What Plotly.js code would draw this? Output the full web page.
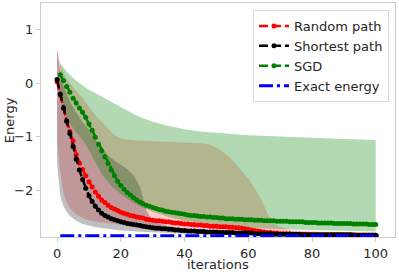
<!DOCTYPE html>
<html><head><meta charset="utf-8">
<script src="https://cdn.plot.ly/plotly-3.0.1.min.js"></script>
<style>html,body{margin:0;padding:0;background:#fff}#chart{width:399px;height:272px}</style>
</head><body><div id="chart"></div>
<script>
// iteration index 0..100
const iterations = Array.from({length: 101}, (_, i) => i);
const sgdIterations = Array.from({length: 100}, (_, i) => i + 1);

const randomPath = [
 0.03,-0.22,-0.47,-0.70,-0.90,-1.08,-1.33,-1.49,-1.61,-1.73,
 -1.84,-1.94,-2.03,-2.11,-2.18,-2.23,-2.28,-2.32,-2.35,-2.38,
 -2.41,-2.43,-2.45,-2.47,-2.48,-2.50,-2.51,-2.52,-2.54,-2.55,
 -2.56,-2.57,-2.57,-2.58,-2.59,-2.59,-2.60,-2.61,-2.61,-2.62,
 -2.63,-2.63,-2.64,-2.64,-2.65,-2.65,-2.66,-2.66,-2.67,-2.67,
 -2.67,-2.68,-2.68,-2.68,-2.69,-2.69,-2.70,-2.70,-2.71,-2.72,
 -2.73,-2.74,-2.75,-2.76,-2.77,-2.78,-2.79,-2.79,-2.80,-2.80,
 -2.81,-2.81,-2.81,-2.81,-2.82,-2.82,-2.82,-2.82,-2.82,-2.82,
 -2.83,-2.83,-2.83,-2.83,-2.83,-2.83,-2.83,-2.83,-2.83,-2.83,
 -2.83,-2.83,-2.83,-2.83,-2.84,-2.84,-2.84,-2.84,-2.84,-2.84,
 -2.84];

const shortestPath = [
 0.07,-0.20,-0.46,-0.71,-0.94,-1.18,-1.42,-1.62,-1.80,-1.96,
 -2.10,-2.21,-2.30,-2.37,-2.43,-2.47,-2.50,-2.53,-2.55,-2.57,
 -2.59,-2.60,-2.62,-2.63,-2.64,-2.65,-2.66,-2.67,-2.68,-2.69,
 -2.70,-2.71,-2.71,-2.72,-2.72,-2.73,-2.73,-2.74,-2.74,-2.75,
 -2.75,-2.76,-2.76,-2.76,-2.77,-2.77,-2.77,-2.78,-2.78,-2.78,
 -2.78,-2.79,-2.79,-2.79,-2.79,-2.79,-2.80,-2.80,-2.80,-2.80,
 -2.80,-2.80,-2.81,-2.81,-2.81,-2.81,-2.81,-2.81,-2.82,-2.82,
 -2.82,-2.82,-2.82,-2.82,-2.82,-2.82,-2.82,-2.83,-2.83,-2.83,
 -2.83,-2.83,-2.83,-2.83,-2.83,-2.83,-2.83,-2.83,-2.83,-2.83,
 -2.83,-2.83,-2.83,-2.84,-2.84,-2.84,-2.84,-2.84,-2.84,-2.84,
 -2.84];

const sgd = [
 0.16, 0.05,-0.06,-0.17,-0.28,-0.37,-0.46,-0.54,-0.64,-0.76,
 -0.88,-1.01,-1.14,-1.26,-1.38,-1.50,-1.62,-1.73,-1.83,-1.91,
 -1.98,-2.04,-2.09,-2.14,-2.18,-2.22,-2.25,-2.28,-2.30,-2.32,
 -2.34,-2.36,-2.37,-2.39,-2.40,-2.41,-2.42,-2.43,-2.44,-2.45,
 -2.46,-2.47,-2.47,-2.48,-2.49,-2.49,-2.50,-2.50,-2.51,-2.51,
 -2.52,-2.52,-2.53,-2.53,-2.53,-2.54,-2.54,-2.54,-2.55,-2.55,
 -2.55,-2.56,-2.56,-2.56,-2.57,-2.57,-2.57,-2.57,-2.58,-2.58,
 -2.58,-2.58,-2.59,-2.59,-2.59,-2.59,-2.59,-2.60,-2.60,-2.60,
 -2.60,-2.61,-2.61,-2.61,-2.61,-2.61,-2.62,-2.62,-2.62,-2.62,
 -2.62,-2.62,-2.63,-2.63,-2.63,-2.63,-2.63,-2.64,-2.64,-2.64];

const exactX = [1, 101];
const exactEnergy = [-2.85, -2.85];

// spread bands (upper / lower edges)
const randomUpperX = [0,1,2,3,4,5,6,8,10,12,15,18,20,23,26,30,35,40,45,48,50,52,54,56,58,60,62,64,66,68,70,73,76,80,90,100];
const randomUpper  = [0.62,0.36,0.2,0.08,0.0,-0.07,-0.13,-0.28,-0.44,-0.6,-0.78,-0.97,-1.03,-1.06,-1.07,-1.08,-1.09,-1.1,-1.12,-1.15,-1.2,-1.28,-1.38,-1.5,-1.64,-1.78,-1.96,-2.16,-2.44,-2.6,-2.68,-2.74,-2.76,-2.77,-2.78,-2.78];
const randomLowerX = [0,1,2,3,4,5,6,8,10,12,15,20,25,30,40,50,60,70,80,100];
const randomLower  = [-1.1,-1.65,-2.05,-2.22,-2.32,-2.4,-2.45,-2.52,-2.56,-2.59,-2.62,-2.65,-2.68,-2.7,-2.74,-2.77,-2.79,-2.82,-2.84,-2.85];

const shortestUpperX = [0,1,2,3,4,5,6,7,8,9,10,12,14,16,18,20,22,24,26,27,28,29,30,32,35,40,45,50,60,70,80,90,100];
const shortestUpper  = [0.66,0.2,-0.05,-0.2,-0.33,-0.45,-0.55,-0.65,-0.73,-0.8,-0.87,-1.05,-1.2,-1.35,-1.45,-1.52,-1.6,-1.72,-1.93,-2.15,-2.37,-2.48,-2.55,-2.62,-2.67,-2.71,-2.74,-2.76,-2.77,-2.78,-2.79,-2.8,-2.8];
const shortestLowerX = [0,1,2,3,4,5,6,8,10,12,15,20,25,30,40,50,60,80,100];
const shortestLower  = [-1.5,-2.1,-2.3,-2.4,-2.48,-2.53,-2.57,-2.63,-2.66,-2.69,-2.72,-2.75,-2.77,-2.79,-2.81,-2.83,-2.84,-2.85,-2.86];

const sgdUpperX = [1,2,3,5,7,10,12,15,18,20,23,26,30,35,40,45,50,55,60,70,80,90,100];
const sgdUpper  = [0.38,0.3,0.22,0.1,0.0,-0.12,-0.19,-0.28,-0.38,-0.45,-0.54,-0.63,-0.72,-0.8,-0.86,-0.9,-0.93,-0.95,-0.97,-1.0,-1.02,-1.04,-1.06];
const sgdLowerX = [1,2,3,4,6,8,10,12,14,17,20,23,26,30,35,40,50,60,70,80,100];
const sgdLower  = [-0.2,-0.4,-0.6,-0.75,-0.92,-1.06,-1.25,-1.47,-1.7,-1.92,-2.07,-2.2,-2.3,-2.4,-2.5,-2.57,-2.65,-2.7,-2.73,-2.75,-2.77];

function band(ux, uy, lx, ly, color) {
  return {
    x: ux.concat(lx.slice().reverse()),
    y: uy.concat(ly.slice().reverse()),
    mode: 'lines', fill: 'toself', fillcolor: color,
    line: {width: 0}, hoverinfo: 'skip', showlegend: false
  };
}

function meanLine(x, y, name, color) {
  return {
    x: x, y: y, name: name, mode: 'lines+markers',
    line: {color: color, width: 2.5, dash: '9px,4px'},
    marker: {color: color, size: 5}
  };
}

const traces = [
  band(randomUpperX, randomUpper, randomLowerX, randomLower, 'rgba(255,0,0,0.2)'),
  band(shortestUpperX, shortestUpper, shortestLowerX, shortestLower, 'rgba(0,0,0,0.25)'),
  band(sgdUpperX, sgdUpper, sgdLowerX, sgdLower, 'rgba(0,128,0,0.3)'),
  meanLine(iterations, randomPath, 'Random path', '#ff0000'),
  meanLine(iterations, shortestPath, 'Shortest path', '#000000'),
  meanLine(sgdIterations, sgd, 'SGD', '#008000'),
  {x: exactX, y: exactEnergy, name: 'Exact energy', mode: 'lines',
   line: {color: '#0000ff', width: 3, dash: '14px,4px,3px,4px'}}
];

const axisCommon = {
  showgrid: false, zeroline: false, showline: true, mirror: true,
  linecolor: '#cccccc', linewidth: 1.2, ticks: 'outside', ticklen: 4,
  tickcolor: '#cccccc', automargin: false,
  tickfont: {size: 13, color: '#262626'}
};

const layout = {
  width: 399, height: 272,
  margin: {l: 41, r: 4, t: 3, b: 35},
  paper_bgcolor: '#ffffff', plot_bgcolor: '#ffffff',
  font: {family: 'DejaVu Sans', size: 13, color: '#262626'},
  showlegend: true,
  xaxis: Object.assign({}, axisCommon, {
    range: [-5.05, 106.05], tickvals: [0, 20, 40, 60, 80, 100]
  }),
  yaxis: Object.assign({}, axisCommon, {
    range: [-2.873, 1.5], tickvals: [-2, -1, 0, 1]
  }),
  annotations: [
    {text: 'iterations', xref: 'paper', yref: 'paper', x: 0.5, y: -0.118,
     xanchor: 'center', yanchor: 'middle', showarrow: false,
     font: {size: 13, color: '#262626'}},
    {text: 'Energy', xref: 'paper', yref: 'paper', x: -0.09, y: 0.5,
     xanchor: 'center', yanchor: 'middle', textangle: -90, showarrow: false,
     font: {size: 13, color: '#262626'}}
  ],
  legend: {
    x: 0.983, y: 0.97, xanchor: 'right', yanchor: 'top',
    bgcolor: '#ffffff', bordercolor: '#d9d9d9', borderwidth: 1,
    font: {size: 13, color: '#262626'}, itemwidth: 30, tracegroupgap: 0
  }
};

Plotly.newPlot('chart', traces, layout, {displayModeBar: false, staticPlot: true});
</script>
</body></html>
